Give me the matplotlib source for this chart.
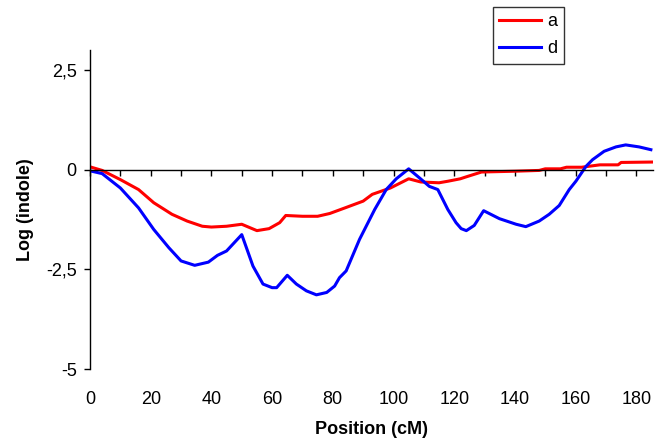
import numpy as np
import matplotlib
matplotlib.use("Agg")
import matplotlib.pyplot as plt

plt.rcParams['font.family'] = ['Liberation Sans', 'DejaVu Sans']
plt.rcParams['font.size'] = 13

# QTL profile data
pos_a = [0, 4, 10, 16, 21, 27, 32, 37, 40, 45, 50, 55, 59, 62.5, 64.5,
         70, 75, 79, 84, 90, 93, 99, 105, 109, 115, 118, 122, 124, 129,
         140, 148, 150, 155, 157, 162, 168, 174, 175, 185]
log_a = [0.07, -0.02, -0.25, -0.5, -0.83, -1.12, -1.29, -1.42, -1.44, -1.42,
         -1.37, -1.53, -1.48, -1.33, -1.15, -1.17, -1.17, -1.1, -0.96, -0.79,
         -0.62, -0.46, -0.23, -0.31, -0.33, -0.29, -0.23, -0.18, -0.06,
         -0.04, -0.02, 0.02, 0.02, 0.06, 0.06, 0.12, 0.12, 0.18, 0.19]

pos_d = [0, 4, 10, 16, 21, 26, 30, 34.5, 39, 42, 45, 50, 53.7, 57, 60, 61.5,
         65, 68, 71.3, 74.6, 78, 80.6, 82.2, 84.4, 88.8, 93.8, 97.6, 100.9,
         105, 108.6, 111.8, 114.6, 117.9, 120.6, 122.3, 124, 126.6, 129.7,
         134.9, 140.4, 143.6, 148, 151.3, 154.6, 157.9, 160.1, 163.4, 165.6,
         169.4, 173.3, 176.5, 180.9, 184.8]
log_d = [-0.03, -0.1, -0.46, -0.96, -1.5, -1.96, -2.29, -2.4, -2.32, -2.15,
         -2.04, -1.63, -2.42, -2.87, -2.96, -2.96, -2.65, -2.87, -3.04, -3.14,
         -3.08, -2.92, -2.71, -2.54, -1.75, -1.0, -0.5, -0.23, 0.02, -0.21,
         -0.42, -0.5, -1.0, -1.33, -1.48, -1.53, -1.4, -1.03, -1.23, -1.37,
         -1.43, -1.29, -1.12, -0.9, -0.5, -0.29, 0.08, 0.25, 0.46, 0.57,
         0.62, 0.57, 0.5]

y_ticks = [-5, -2.5, 0, 2.5]
y_tick_labels = ['-5', '-2,5', '0', '2,5']
x_ticks = [0, 20, 40, 60, 80, 100, 120, 140, 160, 180]

fig = plt.figure(figsize=(6.6, 4.43), dpi=100)
ax = fig.add_axes([90 / 660, 1 - 369 / 443, 563 / 660, 319 / 443])

ax.plot(pos_a, log_a, color='#ff0000', lw=2.2, label='a')
ax.plot(pos_d, log_d, color='#0000ff', lw=2.2, label='d')

ax.set_xlim(0, 185.5)
ax.set_ylim(-5, 3)

# y axis
ax.set_yticks(y_ticks)
ax.set_yticklabels(y_tick_labels)
ax.tick_params(axis='y', length=4.5, width=1, pad=5)
ax.set_ylabel('Log (indole)', fontweight='bold', labelpad=9)
ax.spines['left'].set_linewidth(1)

# x axis line sits at y = 0 with small ticks every 10
ax.spines['bottom'].set_position(('data', 0))
ax.spines['bottom'].set_linewidth(1)
ax.set_xticks(np.arange(0, 181, 10))
ax.tick_params(axis='x', length=4, width=1, labelbottom=False)
ax.spines['top'].set_visible(False)
ax.spines['right'].set_visible(False)

# x labels stay at the bottom of the plot
sec = ax.secondary_xaxis('bottom')
sec.set_xticks(x_ticks)
sec.tick_params(axis='x', length=0, pad=16)
sec.spines['bottom'].set_visible(False)
sec.set_xlabel('Position (cM)', fontweight='bold', labelpad=9)

leg = fig.legend(loc='upper left', bbox_to_anchor=(493 / 660, 1 - 7 / 443),
                 frameon=True, fancybox=False, handlelength=2.3,
                 labelspacing=0.55, borderpad=0.35, handletextpad=0.35,
                 borderaxespad=0)
leg.get_frame().set_edgecolor('black')
leg.get_frame().set_linewidth(1)

fig.savefig('out.png', dpi=100)
